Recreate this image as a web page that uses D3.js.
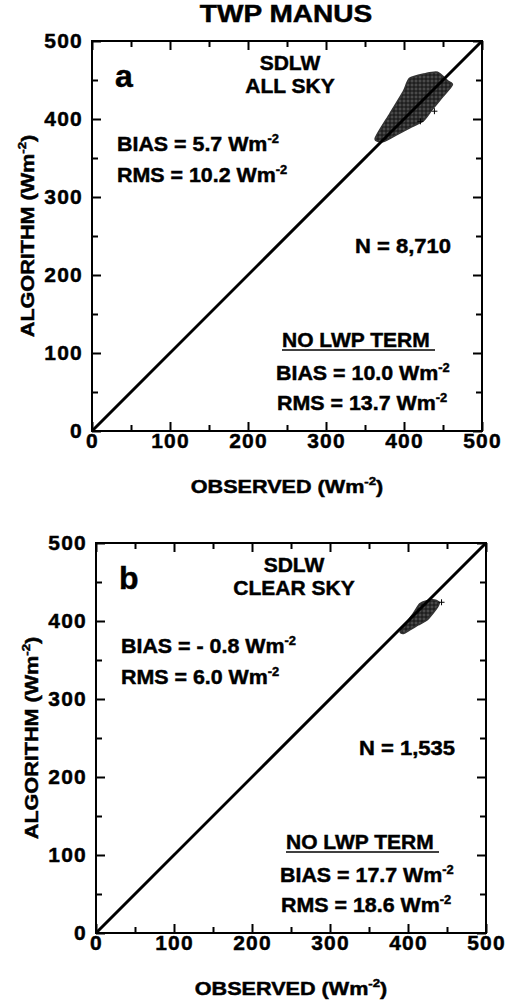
<!DOCTYPE html>
<html>
<head>
<meta charset="utf-8">
<script src="https://cdn.jsdelivr.net/npm/d3@7"></script>
<style>
  body { margin: 0; background: #fff; }
  svg { display: block; font-family: "Liberation Sans", Arial, Helvetica, sans-serif; font-weight: bold; }
  svg text { stroke: #000; stroke-width: 0.45px; fill: #000; }
</style>
</head>
<body>
<div id="chart"></div>
<script>
// values
const title = "TWP MANUS";
const majorTicks = [0, 100, 200, 300, 400, 500];
const minorTicks = [50, 150, 250, 350, 450];
const panelLetters = ["a", "b"];
const skyLabels = ["ALL SKY", "CLEAR SKY"];
const biasValues = ["5.7", "- 0.8"];
const rmsValues = ["10.2", "6.0"];
const countValues = ["8,710", "1,535"];
const noLwpBias = ["10.0", "17.7"];
const noLwpRms = ["13.7", "18.6"];

// outline of the dense "+" cloud (observed, algorithm)
const cloudA = [[363, 375], [382, 407], [399, 435], [407, 452], [427, 458], [443, 460],
  [456, 449], [462, 444], [450, 429], [436, 412], [425, 398], [408, 389], [391, 380], [374, 371]];
const cloudB = [[390, 386], [396, 395], [407, 410], [415, 422], [424, 426], [434, 427],
  [440, 424], [438, 418], [432, 410], [424, 401], [413, 395], [403, 389], [394, 384]];
const outliersA = [[439, 410], [421, 397]];
const outliersB = [[443, 424]];

const clouds = [cloudA, cloudB];
const outliers = [outliersA, outliersB];

const W = 505, H = 1003;
const size = 390;
const origins = [{ x: 92, y: 41 }, { x: 96, y: 543 }];

const svg = d3.select("#chart").append("svg")
  .attr("width", W).attr("height", H);

// texture for the point cloud
const defs = svg.append("defs");
const pat = defs.append("pattern")
  .attr("id", "plus").attr("width", 4).attr("height", 4)
  .attr("patternUnits", "userSpaceOnUse");
pat.append("rect").attr("width", 4).attr("height", 4).attr("fill", "#4a4a4a");
pat.append("path").attr("d", "M0,2H4M2,0V4").attr("stroke", "#111").attr("stroke-width", 1);

// text with an optional "-2" superscript, stretched horizontally a little
function label(g, x, y, main, sup, opts) {
  const o = Object.assign({ size: 20, sx: 1, anchor: "start", after: "" }, opts);
  const t = g.append("g")
    .attr("transform", `translate(${x},${y}) scale(${o.sx},1)`)
    .append("text")
    .attr("text-anchor", o.anchor)
    .attr("font-size", o.size);
  t.append("tspan").text(main);
  if (sup) {
    t.append("tspan").attr("font-size", Math.round(o.size * 0.62)).attr("dy", -o.size * 0.42).text(sup);
    if (o.after) t.append("tspan").attr("dy", o.size * 0.42).text(o.after);
  }
  return t;
}

label(svg, 286, 22, title, null, { size: 23, sx: 1.22, anchor: "middle" });

origins.forEach((org, i) => {
  const x = d3.scaleLinear().domain([0, 500]).range([0, size]);
  const y = d3.scaleLinear().domain([0, 500]).range([size, 0]);

  const g = svg.append("g").attr("transform", `translate(${org.x},${org.y})`);

  // point cloud
  const area = d3.line().x(d => x(d[0])).y(d => y(d[1])).curve(d3.curveCardinalClosed.tension(0.3));
  g.append("path")
    .datum(clouds[i])
    .attr("d", area)
    .attr("fill", "url(#plus)")
    .attr("stroke", "#333")
    .attr("stroke-width", 1.5);

  g.selectAll(".out")
    .data(outliers[i])
    .enter().append("path")
    .attr("class", "out")
    .attr("d", d => `M${x(d[0]) - 3},${y(d[1])}h6M${x(d[0])},${y(d[1]) - 3}v6`)
    .attr("stroke", "#000").attr("stroke-width", 1);

  // 1:1 line
  g.append("line")
    .attr("x1", x(0)).attr("y1", y(0))
    .attr("x2", x(500)).attr("y2", y(500))
    .attr("stroke", "#000").attr("stroke-width", 3);

  // axes, ticks pointing inward on all four sides
  const styleAxis = (sel) => {
    sel.select(".domain").remove();
    sel.selectAll("line").attr("stroke", "#000").attr("stroke-width", 2);
    sel.selectAll("text").attr("font-size", 21).attr("letter-spacing", 1.2)
      .attr("font-family", "'Liberation Sans', Arial, sans-serif").attr("font-weight", "bold").attr("fill", "#000");
  };

  g.append("g").attr("transform", `translate(0,${size})`)
    .call(d3.axisBottom(x).tickValues(majorTicks).tickSize(-9).tickPadding(2))
    .call(styleAxis);
  g.append("g").attr("transform", `translate(0,${size})`)
    .call(d3.axisBottom(x).tickValues(minorTicks).tickSize(-6).tickFormat(""))
    .call(styleAxis);
  g.append("g")
    .call(d3.axisLeft(y).tickValues(majorTicks).tickSize(-9).tickPadding(9))
    .call(styleAxis);
  g.append("g")
    .call(d3.axisLeft(y).tickValues(minorTicks).tickSize(-6).tickFormat(""))
    .call(styleAxis);
  g.append("g")
    .call(d3.axisTop(x).tickValues(majorTicks).tickSize(-9).tickFormat(""))
    .call(styleAxis);
  g.append("g")
    .call(d3.axisTop(x).tickValues(minorTicks).tickSize(-6).tickFormat(""))
    .call(styleAxis);
  g.append("g").attr("transform", `translate(${size},0)`)
    .call(d3.axisRight(y).tickValues(majorTicks).tickSize(-9).tickFormat(""))
    .call(styleAxis);
  g.append("g").attr("transform", `translate(${size},0)`)
    .call(d3.axisRight(y).tickValues(minorTicks).tickSize(-6).tickFormat(""))
    .call(styleAxis);

  g.append("rect")
    .attr("width", size).attr("height", size)
    .attr("fill", "none").attr("stroke", "#000").attr("stroke-width", 2);

  // axis titles
  label(g, size / 2, size + 62, "OBSERVED (Wm", "-2", { size: 18, sx: 1.2, anchor: "middle", after: ")" });
  const yl = g.append("g").attr("transform", `translate(-58,${size / 2}) rotate(-90)`);
  label(yl, 0, 0, "ALGORITHM (Wm", "-2", { size: 18, sx: 1.2, anchor: "middle", after: ")" });

  // annotations
  label(g, 23, 46, panelLetters[i], null, { size: 32 });
  label(g, 198, 29, "SDLW", null, { size: 21, anchor: "middle" });
  label(g, 198, 52, skyLabels[i], null, { size: 21, anchor: "middle" });
  label(g, 25, 110, "BIAS = " + biasValues[i] + " Wm", "-2", { size: 20, sx: 1.07 });
  label(g, 25, 141, "RMS = " + rmsValues[i] + " Wm", "-2", { size: 20, sx: 1.07 });
  label(g, 263, 212, "N = " + countValues[i], null, { size: 20, sx: 1.1 });
  label(g, 190, 306, "NO LWP TERM", null, { size: 20, sx: 1.05 });
  g.append("line")
    .attr("x1", 190).attr("x2", 343).attr("y1", 309).attr("y2", 309)
    .attr("stroke", "#000").attr("stroke-width", 1.5);
  label(g, 184, 339, "BIAS = " + noLwpBias[i] + " Wm", "-2", { size: 20, sx: 1.07 });
  label(g, 185, 369, "RMS = " + noLwpRms[i] + " Wm", "-2", { size: 20, sx: 1.07 });
});
</script>
</body>
</html>
